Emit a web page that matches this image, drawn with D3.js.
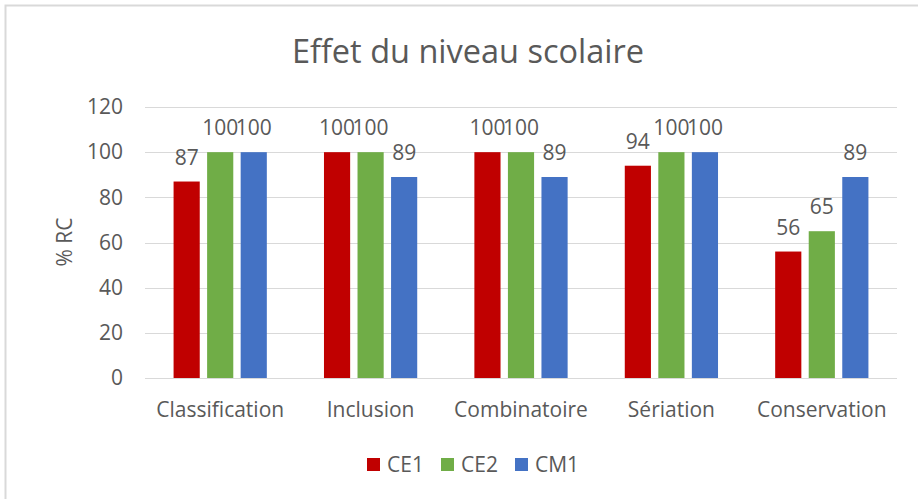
<!DOCTYPE html>
<html>
<head>
<meta charset="utf-8">
<script src="https://cdn.jsdelivr.net/npm/d3@7"></script>
<style>
  body { margin: 0; background: #fff; }
  text { font-family: "Open Sans", Lato, sans-serif; fill: #595959; }
</style>
</head>
<body>
<svg id="chart"></svg>
<script>
    // Data
    const categories = ["Classification", "Inclusion", "Combinatoire", "Sériation", "Conservation"];
    const seriesNames = ["CE1", "CE2", "CM1"];
    const ce1 = [87, 100, 100, 94, 56];
    const ce2 = [100, 100, 100, 100, 65];
    const cm1 = [100, 89, 89, 100, 89];
    const yTicks = [0, 20, 40, 60, 80, 100, 120];
    const colors = ["#C00000", "#70AD47", "#4472C4"];

    const seriesValues = [ce1, ce2, cm1];
    const rows = categories.map((c, i) => ({
      category: c,
      values: seriesNames.map((s, j) => ({ series: s, value: seriesValues[j][i] }))
    }));

    const W = 918, H = 499;
    const plot = { left: 145, right: 897, top: 107, bottom: 378 };
    const fs = 21;

    const svg = d3.select("#chart")
      .attr("width", W)
      .attr("height", H);

    // chart frame
    svg.append("rect")
      .attr("x", 5.5).attr("y", 5.5)
      .attr("width", 1000).attr("height", 1000)
      .attr("fill", "none")
      .attr("stroke", "#d9d9d9")
      .attr("stroke-width", 2);

    // Scales
    const x0 = d3.scaleBand()
      .domain(categories)
      .range([plot.left, plot.right])
      .paddingInner(0.38)
      .paddingOuter(0.19);

    const x1 = d3.scaleBand()
      .domain(seriesNames)
      .range([0, x0.bandwidth()])
      .paddingInner(0.22);

    const y = d3.scaleLinear()
      .domain([0, 120])
      .range([plot.bottom, plot.top]);

    const color = d3.scaleOrdinal().domain(seriesNames).range(colors);

    // Gridlines
    svg.append("g")
      .selectAll("line")
      .data(yTicks)
      .join("line")
      .attr("x1", plot.left).attr("x2", plot.right)
      .attr("y1", d => Math.round(y(d)) + 0.5)
      .attr("y2", d => Math.round(y(d)) + 0.5)
      .attr("stroke", "#d9d9d9")
      .attr("stroke-width", 1);

    // Y axis labels
    const yAxis = svg.append("g")
      .attr("transform", `translate(${plot.left},0)`)
      .call(d3.axisLeft(y).tickValues(yTicks).tickSize(0).tickPadding(22));
    yAxis.select(".domain").remove();
    yAxis.selectAll("text")
      .attr("font-size", fs)
      .attr("fill", "#595959")
      .style("font-family", "'Open Sans', sans-serif");

    // X axis labels
    const xAxis = svg.append("g")
      .attr("transform", `translate(0,${plot.bottom})`)
      .call(d3.axisBottom(x0).tickSize(0).tickPadding(24));
    xAxis.select(".domain").remove();
    xAxis.selectAll("text")
      .attr("font-size", fs)
      .attr("fill", "#595959")
      .style("font-family", "'Open Sans', sans-serif");

    // Bars
    const groups = svg.append("g")
      .selectAll("g")
      .data(rows)
      .join("g")
      .attr("transform", d => `translate(${x0(d.category)},0)`);

    groups.selectAll("rect")
      .data(d => d.values)
      .join("rect")
      .attr("x", d => x1(d.series))
      .attr("y", d => y(d.value))
      .attr("width", x1.bandwidth())
      .attr("height", d => y(0) - y(d.value))
      .attr("fill", d => color(d.series));

    // Data labels
    groups.selectAll("text.lbl")
      .data(d => d.values)
      .join("text")
      .attr("class", "lbl")
      .attr("x", d => x1(d.series) + x1.bandwidth() / 2)
      .attr("y", d => y(d.value) - 17)
      .attr("text-anchor", "middle")
      .attr("font-size", fs)
      .text(d => d.value);

    // Title
    svg.append("text")
      .attr("x", 468)
      .attr("y", 63)
      .attr("text-anchor", "middle")
      .attr("font-size", 32.5)
      .text("Effet du niveau scolaire");

    // Y axis title
    svg.append("text")
      .attr("transform", `translate(72,242) rotate(-90)`)
      .attr("text-anchor", "middle")
      .attr("font-size", fs)
      .text("% RC");

    // Legend
    const legend = svg.append("g")
      .selectAll("g")
      .data(seriesNames)
      .join("g")
      .attr("transform", (d, i) => `translate(${367 + i * 74},458)`);

    legend.append("rect")
      .attr("width", 13).attr("height", 13)
      .attr("fill", d => color(d));

    legend.append("text")
      .attr("x", 20)
      .attr("y", 13.5)
      .attr("font-size", fs)
      .text(d => d);
</script>
</body>
</html>
